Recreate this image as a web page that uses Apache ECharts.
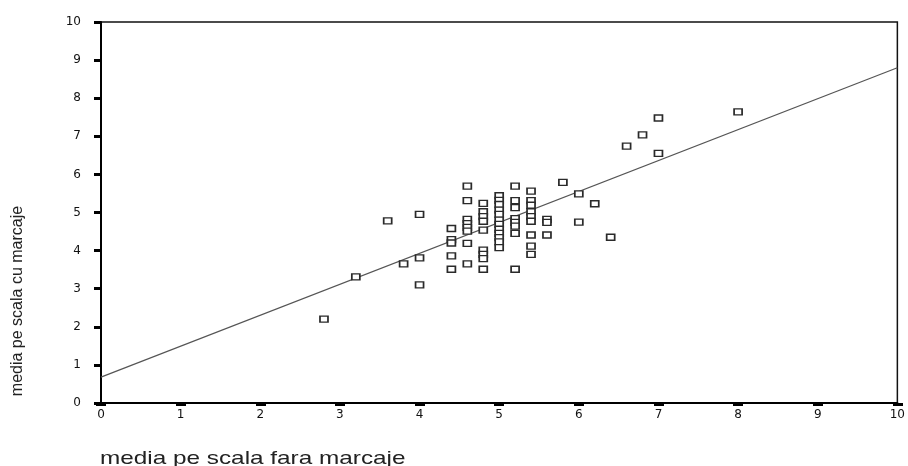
<!DOCTYPE html>
<html>
<head>
<meta charset="utf-8">
<script src="https://cdn.jsdelivr.net/npm/echarts@6/dist/echarts.min.js"></script>
<style>
  html, body { margin: 0; padding: 0; background: #fff; }
  #chart { width: 908px; height: 466px; }
</style>
</head>
<body>
<div id="chart"></div>
<script>
// x: media pe scala fara marcaje, y: media pe scala cu marcaje
const xValues = [
  2.8, 3.2, 3.6, 3.8, 4.0, 4.0, 4.0,
  4.4, 4.4, 4.4, 4.4, 4.4,
  4.6, 4.6, 4.6, 4.6, 4.6, 4.6, 4.6, 4.6,
  4.8, 4.8, 4.8, 4.8, 4.8, 4.8, 4.8, 4.8, 4.8,
  5.0, 5.0, 5.0, 5.0, 5.0, 5.0, 5.0, 5.0, 5.0, 5.0, 5.0, 5.0,
  5.2, 5.2, 5.2, 5.2, 5.2, 5.2, 5.2, 5.2,
  5.4, 5.4, 5.4, 5.4, 5.4, 5.4, 5.4, 5.4, 5.4,
  5.6, 5.6, 5.6,
  5.8, 6.0, 6.2, 6.0, 6.4, 6.6, 6.8, 7.0, 7.0, 8.0
];
const yValues = [
  2.20, 3.31, 4.78, 3.65, 4.95, 3.81, 3.10,
  4.58, 4.29, 4.20, 3.86, 3.51,
  5.69, 5.31, 4.82, 4.71, 4.61, 4.51, 4.19, 3.65,
  5.24, 5.02, 4.89, 4.77, 4.54, 4.01, 3.90, 3.79, 3.51,
  5.44, 5.32, 5.21, 5.06, 4.95, 4.80, 4.69, 4.56, 4.45, 4.34, 4.23, 4.08,
  5.69, 5.31, 5.13, 4.84, 4.74, 4.64, 4.45, 3.51,
  5.56, 5.31, 5.19, 5.02, 4.89, 4.77, 4.41, 4.12, 3.90,
  4.82, 4.74, 4.41,
  5.79, 5.49, 5.23, 4.75, 4.35, 6.74, 7.04, 7.48, 6.55, 7.64
];
// fitted regression line end points
const lineX = [0, 10];
const lineY = [0.68, 8.80];
const xTicks = [0, 10, 1];
const yTicks = [0, 10, 1];
const xTitle = 'media pe scala fara marcaje';
const yTitle = 'media pe scala cu marcaje';

const points = xValues.map((x, i) => [x, yValues[i]]);
const linePts = lineX.map((x, i) => [x, lineY[i]]);

const chart = echarts.init(document.getElementById('chart'), null, { renderer: 'canvas' });
const labelStyle = { color: '#111', fontFamily: 'DejaVu Sans', fontSize: 12 };
chart.setOption({
  backgroundColor: '#fff',
  animation: false,
  grid: { left: 101, right: 10, top: 22, bottom: 63, show: true, borderColor: '#111', borderWidth: 1.5, backgroundColor: 'transparent' },
  xAxis: {
    type: 'value', min: xTicks[0], max: xTicks[1], interval: xTicks[2],
    splitLine: { show: false },
    axisLine: { show: true, onZero: false, lineStyle: { color: '#000', width: 2 } },
    axisTick: { show: true, length: 3, lineStyle: { color: '#000', width: 10 } },
    axisLabel: Object.assign({ margin: 6 }, labelStyle)
  },
  yAxis: {
    type: 'value', min: yTicks[0], max: yTicks[1], interval: yTicks[2],
    splitLine: { show: false },
    axisLine: { show: true, onZero: false, lineStyle: { color: '#000', width: 2 } },
    axisTick: { show: true, length: 7, lineStyle: { color: '#000', width: 3 } },
    axisLabel: Object.assign({ margin: 20 }, labelStyle)
  },
  graphic: [
    {
      type: 'text', x: 18, y: 301, rotation: Math.PI / 2,
      style: { text: yTitle, font: '16px "Liberation Sans", Arial, sans-serif', fill: '#222',
               align: 'center', verticalAlign: 'middle', textAlign: 'center', textVerticalAlign: 'middle' }
    },
    {
      type: 'text', x: 100, y: 468, scaleX: 1.28,
      style: { text: xTitle, font: '19px "Liberation Sans", Arial, sans-serif', fill: '#222',
               align: 'left', verticalAlign: 'bottom', textAlign: 'left', textVerticalAlign: 'bottom' }
    }
  ],
  series: [
    {
      type: 'line', data: linePts, symbol: 'none', silent: true, z: 1,
      lineStyle: { color: '#555', width: 1.2 }
    },
    {
      type: 'scatter', data: points, symbol: 'rect', symbolSize: [8, 6], z: 3,
      itemStyle: { color: '#fff', borderColor: '#2a2a2a', borderWidth: 1.5, opacity: 1 }
    }
  ]
});
</script>
</body>
</html>
